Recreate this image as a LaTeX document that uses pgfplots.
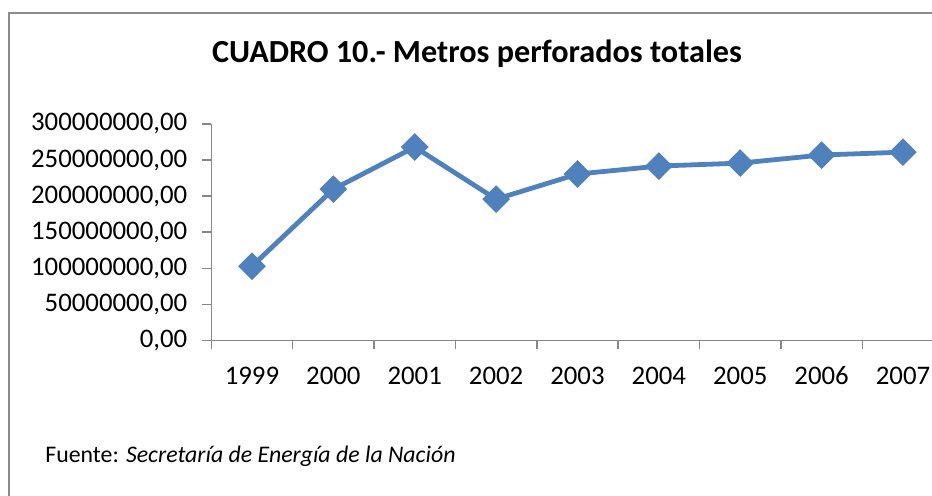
\documentclass[border=0pt]{standalone}
\usepackage{pgfplots}
\pgfplotsset{compat=1.18}
\usepackage{fontspec}
\setmainfont{Carlito}
\definecolor{exblue}{HTML}{4F81BD}
\definecolor{exgray}{HTML}{878787}
\definecolor{framegray}{HTML}{8C8C8C}
\begin{document}
\begin{tikzpicture}[x=0.5pt,y=0.5pt]
\path[use as bounding box] (0,0) rectangle (932,496);
\draw[framegray, line width=1.15pt] (9,-20) -- (9,483) -- (960,483);
\node[font=\fontsize{16.1}{19}\selectfont\bfseries] at (477,442) {CUADRO 10.- Metros perforados totales};
\node[anchor=base west, inner sep=0pt, font=\fontsize{11.9}{14}\selectfont] at (45,33) {Fuente: \textit{Secretaría de Energía de la Nación}};
\begin{axis}[
  at={(105.65pt,77.75pt)}, anchor=south west,
  scale only axis, width=366.2pt, height=108.25pt,
  xmin=-0.5, xmax=8.5, ymin=0, ymax=300000000,
  axis lines*=left, axis line style={exgray, line width=0.75pt, -},
  xtick={0,...,8},
  xticklabels={1999,2000,2001,2002,2003,2004,2005,2006,2007},
  minor xtick={-0.5,0.5,...,8.5},
  ytick={0,50000000,100000000,150000000,200000000,250000000,300000000},
  yticklabels={{0,00},{50000000,00},{100000000,00},{150000000,00},{200000000,00},{250000000,00},{300000000,00}},
  tick align=outside,
  x tick style={draw=none},
  minor x tick style={draw=exgray, line width=0.75pt},
  y tick style={exgray, line width=0.75pt},
  major tick length=4.5pt, minor tick length=4.5pt,
  tick label style={font=\fontsize{13.4}{16}\selectfont},
  xticklabel style={anchor=base, yshift=-17.6pt, text depth=0pt},
  yticklabel style={xshift=-4pt},
  scaled y ticks=false,
  clip=false,
]
\addplot[exblue, line width=2.4pt, mark=square*, mark size=3.7pt, mark options={rotate=45, solid}] coordinates {
(0,103000000) (1,209700000) (2,268000000) (3,195800000) (4,230600000) (5,241700000) (6,245800000) (7,257000000) (8,261000000)
};
\end{axis}
\end{tikzpicture}
\end{document}
